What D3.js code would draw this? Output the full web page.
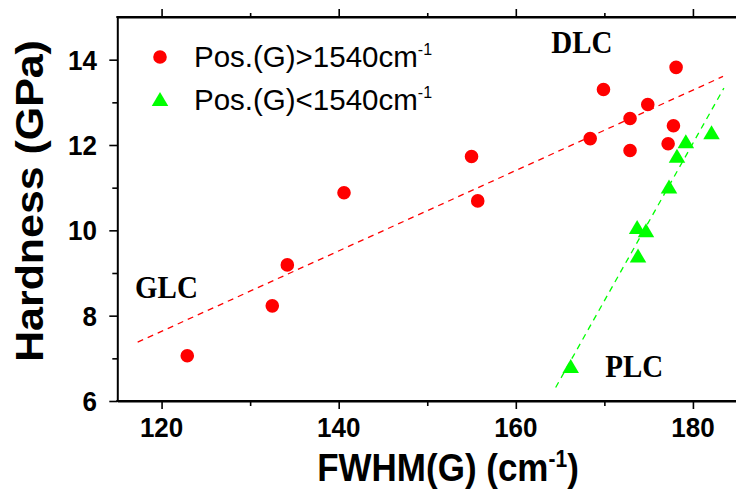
<!DOCTYPE html>
<html>
<head>
<meta charset="utf-8">
<script src="https://cdn.jsdelivr.net/npm/d3@7"></script>
<style>
  html, body { margin: 0; padding: 0; background: #fff; }
  svg { display: block; }
</style>
</head>
<body>
<svg id="chart" width="736" height="494"></svg>
<script>
// Films with G peak above 1540 cm-1
const fwhmHigh = [122.9, 132.5, 134.2, 140.6, 155.0, 155.7, 168.4, 169.9, 172.9, 172.9, 174.9, 178.1, 177.8, 177.2];
const hardHigh = [7.06, 8.23, 9.19, 10.88, 11.73, 10.69, 12.15, 13.30, 12.62, 11.87, 12.95, 13.82, 12.45, 12.03];

// Films with G peak below 1540 cm-1
const fwhmLow = [182.1, 179.2, 178.2, 177.3, 173.7, 174.7, 173.8, 166.2];
const hardLow = [12.30, 12.09, 11.75, 11.03, 10.08, 10.00, 9.41, 6.82];

// x-extent over which each least-squares line is drawn
const fitSpanHigh = [117.3, 183.4];
const fitSpanLow = [164.5, 183.5];

// axis ticks
const xTicks = [120, 130, 140, 150, 160, 170, 180];
const xTickLabels = [120, 140, 160, 180];
const yTicks = [6, 7, 8, 9, 10, 11, 12, 13, 14];
const yTickLabels = [6, 8, 10, 12, 14];

// region annotations (anchor in data units)
const regionNames = ["DLC", "GLC", "PLC"];
const regionFwhm = [164.0, 117.0, 170.1];
const regionHard = [14.15, 8.42, 6.56];

const legendLabels = ["Pos.(G)>1540cm", "Pos.(G)<1540cm"];

const RED = "#ff0000", GREEN = "#00ff00";
const SANS = "'Liberation Sans', Arial, sans-serif";
const SERIF = "'Liberation Serif', 'Times New Roman', serif";

const svg = d3.select("#chart");
const plot = { left: 117.3, right: 737.2, top: 17, bottom: 401 };

const x = d3.scaleLinear().domain([115, 185]).range([plot.left, plot.right]);
const y = d3.scaleLinear().domain([6, 15]).range([plot.bottom, plot.top]);

// least-squares fit
function linFit(xs, ys) {
  const mx = d3.mean(xs), my = d3.mean(ys);
  let sxy = 0, sxx = 0;
  xs.forEach((v, i) => { sxy += (v - mx) * (ys[i] - my); sxx += (v - mx) * (v - mx); });
  const slope = sxy / sxx;
  return { slope, intercept: my - slope * mx };
}

// text helper with independent horizontal/vertical scaling
function label(parent, tx, ty, o) {
  const g = parent.append("g")
    .attr("transform", `translate(${tx},${ty}) rotate(${o.rotate || 0}) scale(${o.sx || 1},${o.sy || 1})`);
  return g.append("text")
    .attr("x", 0).attr("y", 0)
    .attr("font-family", o.family || SANS)
    .attr("font-size", o.size)
    .attr("font-weight", o.weight || "normal")
    .attr("text-anchor", o.anchor || "start")
    .attr("fill", "#000");
}

// axes
const axisG = svg.append("g");
function drawAxis(axis, transform) {
  const g = axisG.append("g").attr("transform", transform).call(axis);
  g.selectAll("text").remove();
  g.select(".domain").attr("stroke", "#000").attr("stroke-width", 2);
  g.selectAll(".tick line").attr("stroke", "#000").attr("stroke-width", 1.6);
  return g;
}
const majorX = d => xTickLabels.includes(d);
const majorY = d => yTickLabels.includes(d);

const bottomAx = drawAxis(d3.axisBottom(x).tickValues(xTicks).tickSizeOuter(0), `translate(0,${plot.bottom})`);
bottomAx.selectAll(".tick line").attr("y2", d => majorX(d) ? 8 : 5);
const topAx = drawAxis(d3.axisTop(x).tickValues(xTicks).tickSizeOuter(0), `translate(0,${plot.top})`);
topAx.selectAll(".tick line").attr("y2", d => majorX(d) ? -8 : -4);
const leftAx = drawAxis(d3.axisLeft(y).tickValues(yTicks).tickSizeOuter(0), `translate(${plot.left},0)`);
leftAx.selectAll(".tick line").attr("x2", d => majorY(d) ? -8 : -5);
// corner closures
[plot.bottom, plot.top].forEach(py => {
  axisG.append("line").attr("x1", plot.left - 1).attr("x2", plot.right).attr("y1", py).attr("y2", py)
    .attr("stroke", "#000").attr("stroke-width", 2);
});

// tick labels
xTickLabels.forEach(v => {
  label(svg, x(v), 437, { size: 26, weight: "bold", anchor: "middle", sy: 1.08 }).text(v);
});
yTickLabels.forEach(v => {
  label(svg, 97, y(v) + 10, { size: 26, weight: "bold", anchor: "end", sy: 1.08 }).text(v);
});

// axis titles
const xt = label(svg, 448, 481, { size: 35, weight: "bold", anchor: "middle", sy: 1.1 });
xt.append("tspan").text("FWHM(G) (cm");
xt.append("tspan").attr("font-size", 21).attr("dy", -13).text("-1");
xt.append("tspan").attr("dy", 13).text(")");

label(svg, 43, 201, { size: 39, weight: "bold", anchor: "middle", rotate: -90, sx: 1.1 })
  .text("Hardness (GPa)");

// fit lines
const fits = [
  { xs: fwhmHigh, ys: hardHigh, span: fitSpanHigh, color: RED },
  { xs: fwhmLow, ys: hardLow, span: fitSpanLow, color: GREEN }
];
fits.forEach(f => {
  const { slope, intercept } = linFit(f.xs, f.ys);
  svg.append("line")
    .attr("x1", x(f.span[0])).attr("y1", y(slope * f.span[0] + intercept))
    .attr("x2", x(f.span[1])).attr("y2", y(slope * f.span[1] + intercept))
    .attr("stroke", f.color).attr("stroke-width", 1.3)
    .attr("stroke-dasharray", "6,5");
});

// markers
const circleSym = d3.symbol().type(d3.symbolCircle).size(Math.PI * 6.8 * 6.8);
function triPath(cx, cy) {
  const w = 16.5, h = 14;
  return `M${cx},${cy - h / 2}L${cx + w / 2},${cy + h / 2}L${cx - w / 2},${cy + h / 2}Z`;
}

svg.append("g").selectAll("path").data(fwhmHigh.map((v, i) => [v, hardHigh[i]])).join("path")
  .attr("d", circleSym)
  .attr("transform", d => `translate(${x(d[0])},${y(d[1])})`)
  .attr("fill", RED);

svg.append("g").selectAll("path").data(fwhmLow.map((v, i) => [v, hardLow[i]])).join("path")
  .attr("d", d => triPath(x(d[0]), y(d[1])))
  .attr("fill", GREEN);

// region annotations
regionNames.forEach((name, i) => {
  label(svg, x(regionFwhm[i]), y(regionHard[i]), { size: 29, weight: "bold", family: SERIF, sy: 1.1 })
    .text(name);
});

// legend
const legend = svg.append("g");
legend.append("path").attr("d", circleSym).attr("transform", "translate(160,57)").attr("fill", RED);
legend.append("path").attr("d", triPath(160, 99)).attr("fill", GREEN);
legendLabels.forEach((txt, i) => {
  const t = label(legend, 194, 67.3 + i * 42.7, { size: 29.5 });
  t.append("tspan").text(txt);
  t.append("tspan").attr("font-size", 16).attr("dy", -12).text("-1");
});
</script>
</body>
</html>
